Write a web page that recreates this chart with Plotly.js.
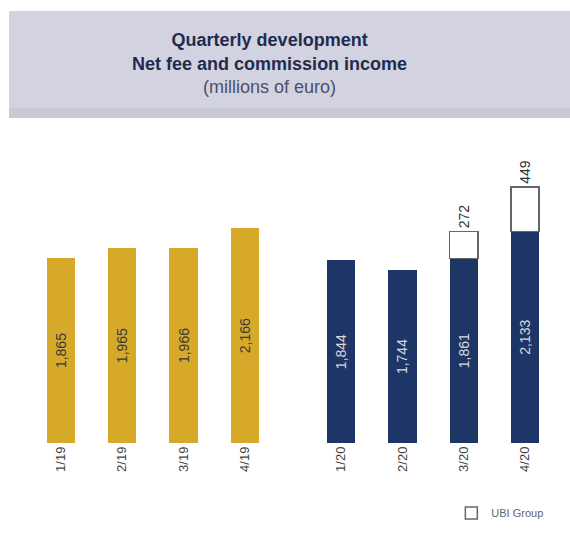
<!DOCTYPE html>
<html>
<head>
<meta charset="utf-8">
<script src="https://cdn.plot.ly/plotly-3.0.1.min.js"></script>
<style>
  html, body { margin: 0; padding: 0; background: #fff; }
  #chart { width: 570px; height: 533px; }
</style>
</head>
<body>
<div id="chart"></div>
<script>
// quarters and values (millions of euro)
var quarters2019 = ['1/19', '2/19', '3/19', '4/19'];
var quarters2020 = ['1/20', '2/20', '3/20', '4/20'];
var income2019 = [1865, 1965, 1966, 2166];
var income2020 = [1844, 1744, 1861, 2133];
var ubiGroup = [null, null, 272, 449];

var gold = 'rgb(214, 169, 42)';
var navy = 'rgb(29, 53, 103)';

var bars2019 = {
  x: quarters2019,
  y: income2019,
  type: 'bar',
  xaxis: 'x',
  yaxis: 'y',
  marker: { color: gold },
  texttemplate: '%{y:,}',
  textposition: 'inside',
  insidetextanchor: 'middle',
  textangle: -90,
  constraintext: 'none',
  textfont: { family: 'Liberation Sans, Arial, sans-serif', size: 14, color: '#3a3a3a' },
  showlegend: false,
  hoverinfo: 'x+y'
};

var bars2020 = {
  x: quarters2020,
  y: income2020,
  type: 'bar',
  xaxis: 'x2',
  yaxis: 'y2',
  marker: { color: navy },
  texttemplate: '%{y:,}',
  textposition: 'inside',
  insidetextanchor: 'middle',
  textangle: -90,
  constraintext: 'none',
  textfont: { family: 'Liberation Sans, Arial, sans-serif', size: 14, color: '#d8d8dc' },
  showlegend: false,
  hoverinfo: 'x+y'
};

// contributo UBI impilato sopra
var ubi = {
  x: quarters2020,
  y: ubiGroup,
  type: 'bar',
  name: 'UBI Group',
  xaxis: 'x2',
  yaxis: 'y2',
  marker: { color: '#ffffff', line: { color: '#666666', width: 1.5 } },
  texttemplate: '%{y}',
  textposition: 'outside',
  textangle: -90,
  constraintext: 'none',
  cliponaxis: false,
  textfont: { family: 'Liberation Sans, Arial, sans-serif', size: 14, color: '#333333' },
  showlegend: true
};

var yRange = [0, 3054];

var layout = {
  width: 570,
  height: 533,
  margin: { l: 0, r: 0, t: 140, b: 90 },
  paper_bgcolor: '#ffffff',
  plot_bgcolor: '#ffffff',
  barmode: 'stack',
  bargap: 0.54,
  font: { family: 'Liberation Sans, Arial, sans-serif', color: '#333333' },
  title: {
    text: '<b>Quarterly development</b><br><b>Net fee and commission income</b><br><span style="color:#4a5068">(millions of euro)</span>',
    x: 0.473,
    xanchor: 'center',
    y: 0.913,
    yanchor: 'top',
    yref: 'container',
    font: { family: 'Liberation Sans, Arial, sans-serif', size: 18, color: '#1f2c4e' }
  },
  xaxis: {
    domain: [0.053, 0.4835],
    type: 'category',
    tickangle: -90,
    showline: false,
    showgrid: false,
    zeroline: false,
    ticks: '',
    tickfont: { size: 13, color: '#444444' }
  },
  xaxis2: {
    domain: [0.5446, 0.975],
    anchor: 'y2',
    type: 'category',
    tickangle: -90,
    showline: false,
    showgrid: false,
    zeroline: false,
    ticks: '',
    tickfont: { size: 13, color: '#444444' }
  },
  yaxis: { range: yRange, visible: false, fixedrange: true },
  yaxis2: { range: yRange, visible: false, anchor: 'x2', fixedrange: true },
  legend: {
    x: 0.962,
    xanchor: 'right',
    y: -0.231,
    yanchor: 'middle',
    font: { size: 11, color: '#666666' },
    itemwidth: 30,
    bgcolor: 'rgba(0,0,0,0)'
  },
  shapes: [
    // fond gris du titre
    {
      type: 'rect', xref: 'paper', yref: 'paper', layer: 'below',
      x0: 0.0158, x1: 1, y0: 1.0726, y1: 1.4257,
      fillcolor: '#d3d2e0', line: { width: 0 }
    },
    {
      type: 'rect', xref: 'paper', yref: 'paper', layer: 'below',
      x0: 0.0158, x1: 1, y0: 1.0726, y1: 1.1056,
      fillcolor: '#cac9d8', line: { width: 0 }
    }
  ]
};

Plotly.newPlot('chart', [bars2019, bars2020, ubi], layout, { displayModeBar: false, staticPlot: true });
</script>
</body>
</html>
